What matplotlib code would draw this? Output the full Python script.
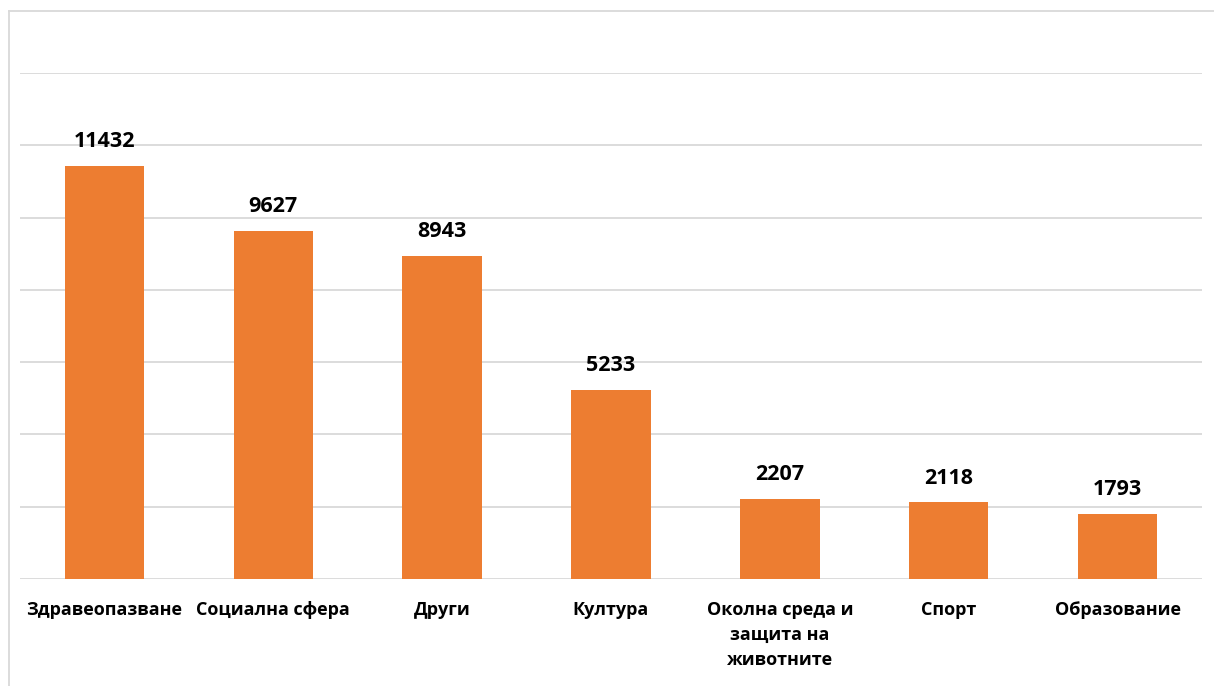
import matplotlib.pyplot as plt
from matplotlib.lines import Line2D

# --- DATA ---
categories = ["Здравеопазване", "Социална сфера", "Други", "Култура",
              "Околна среда и\nзащита на\nживотните", "Спорт", "Образование"]
values = [11432, 9627, 8943, 5233, 2207, 2118, 1793]

BAR_COLOR = "#ED7D31"
GRID_COLOR = "#D9D9D9"
W, H = 1214, 686

plt.rcParams['font.family'] = ['Open Sans', 'DejaVu Sans']

fig = plt.figure(figsize=(W / 100, H / 100), dpi=100)
ax = fig.add_axes([20 / W, 1 - 579 / H, (1202 - 20) / W, (579 - 73) / H])

x = range(len(categories))
bars = ax.bar(x, values, width=0.47, color=BAR_COLOR, zorder=2)

for b, v in zip(bars, values):
    ax.annotate(str(v), (b.get_x() + b.get_width() / 2, v),
                xytext=(0, 10), textcoords="offset points",
                ha="center", va="bottom", fontsize=15.5, fontweight="bold")

ax.set_xlim(-0.5, len(categories) - 0.5)
ax.set_ylim(0, 14000)
ax.set_yticks(range(0, 14001, 2000))
ax.yaxis.grid(True, color=GRID_COLOR, linewidth=1.3, zorder=0)
ax.tick_params(axis="y", left=False, labelleft=False)
ax.tick_params(axis="x", bottom=False, pad=12)
ax.set_xticks(list(x))
ax.set_xticklabels(categories, fontsize=13, fontweight="bold", linespacing=1.5, va="top")
for s in ax.spines.values():
    s.set_visible(False)

# рамка около диаграмата
fig.add_artist(Line2D([9 / W, 9 / W], [0, 1 - 11 / H], color=GRID_COLOR, linewidth=1.3))
fig.add_artist(Line2D([9 / W, 1], [1 - 11 / H, 1 - 11 / H], color=GRID_COLOR, linewidth=1.3))

fig.savefig("out.png", dpi=100)
